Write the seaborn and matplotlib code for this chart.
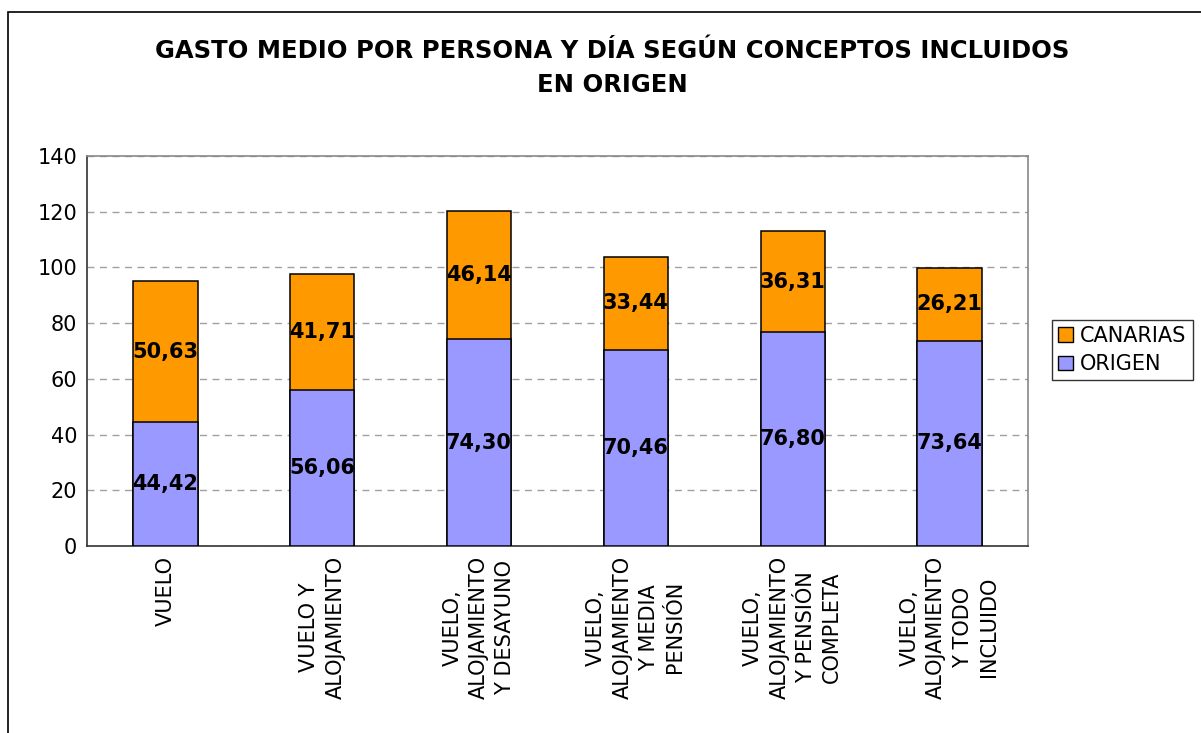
import numpy as np
import pandas as pd
import seaborn as sns
import matplotlib
import matplotlib.pyplot as plt
from matplotlib.patches import Rectangle, Patch
matplotlib.use('Agg')

# Chart data
categories = ["VUELO",
              "VUELO Y\nALOJAMIENTO",
              "VUELO,\nALOJAMIENTO\nY DESAYUNO",
              "VUELO,\nALOJAMIENTO\nY MEDIA\nPENSIÓN",
              "VUELO,\nALOJAMIENTO\nY PENSIÓN\nCOMPLETA",
              "VUELO,\nALOJAMIENTO\nY TODO\nINCLUIDO"]
origen = [44.42, 56.06, 74.30, 70.46, 76.80, 73.64]
canarias = [50.63, 41.71, 46.14, 33.44, 36.31, 26.21]
yticks = [0, 20, 40, 60, 80, 100, 120, 140]

color_origen = "#9999FF"
color_canarias = "#FF9900"


def fmt(v):
    # Spanish decimal comma
    return f"{v:.2f}".replace(".", ",")


def main():
    sns.set_style("white")
    plt.rcParams['font.family'] = ['DejaVu Sans']
    plt.rcParams['text.color'] = 'black'
    plt.rcParams['xtick.color'] = 'black'
    plt.rcParams['ytick.color'] = 'black'

    df = pd.DataFrame({"concepto": categories, "ORIGEN": origen, "CANARIAS": canarias})
    df["TOTAL"] = df["ORIGEN"] + df["CANARIAS"]

    fig = plt.figure(figsize=(12.01, 7.33), dpi=100)
    ax = fig.add_axes([0.0724, 0.2551, 0.7835, 0.532])

    # Stack: draw the total first, then the bottom series over it
    sns.barplot(data=df, x="concepto", y="TOTAL", color=color_canarias, width=0.41,
                edgecolor="black", linewidth=1.1, saturation=1, ax=ax, zorder=3)
    sns.barplot(data=df, x="concepto", y="ORIGEN", color=color_origen, width=0.41,
                edgecolor="black", linewidth=1.1, saturation=1, ax=ax, zorder=3)

    # Value labels centred in each segment
    for i, (o, c) in enumerate(zip(origen, canarias)):
        ax.text(i, o / 2, fmt(o), ha="center", va="center", fontsize=15,
                fontweight="bold", color="black", zorder=4)
        ax.text(i, o + c / 2, fmt(c), ha="center", va="center", fontsize=15,
                fontweight="bold", color="black", zorder=4)

    ax.set_ylim(0, 140)
    ax.set_yticks(yticks)
    ax.set_yticklabels([str(t) for t in yticks], fontsize=15)
    ax.set_xlim(-0.5, len(categories) - 0.5)
    ax.set_xticks(range(len(categories)))
    ax.set_xticklabels(categories, rotation=90, fontsize=15, ha="center",
                       va="top", multialignment="center", linespacing=1.4)
    ax.tick_params(axis="both", length=0, pad=7)
    ax.set_xlabel("")
    ax.set_ylabel("")

    ax.yaxis.grid(True, linestyle=(0, (5, 4)), color="#A0A0A0", linewidth=1, zorder=0)
    for side in ["left", "bottom"]:
        ax.spines[side].set_color("#333333")
        ax.spines[side].set_linewidth(1.2)
    for side in ["top", "right"]:
        ax.spines[side].set_color("#888888")
        ax.spines[side].set_linewidth(1.2)

    fig.text(0.51, 0.907, "GASTO MEDIO POR PERSONA Y DÍA SEGÚN CONCEPTOS INCLUIDOS\nEN ORIGEN",
             ha="center", va="center", fontsize=17.5, fontweight="bold", linespacing=1.5,
             color="black")

    handles = [Patch(facecolor=color_canarias, edgecolor="black", label="CANARIAS"),
               Patch(facecolor=color_origen, edgecolor="black", label="ORIGEN")]
    leg = fig.legend(handles=handles, loc="center left", bbox_to_anchor=(1052 / 1201, 1 - 350 / 733),
                     fontsize=15, frameon=True, fancybox=False, edgecolor="black",
                     handlelength=0.7, handleheight=0.7, handletextpad=0.35,
                     borderpad=0.3, labelspacing=0.4, borderaxespad=0)
    leg.get_frame().set_linewidth(1)

    # Outer chart frame
    fig.patches.append(Rectangle((8 / 1201, -0.1), 1.2, 1.1 - 12 / 733, transform=fig.transFigure,
                                 fill=False, edgecolor="black", linewidth=1.2, clip_on=False))

    fig.savefig("out.png", dpi=100)


if __name__ == "__main__":
    main()
